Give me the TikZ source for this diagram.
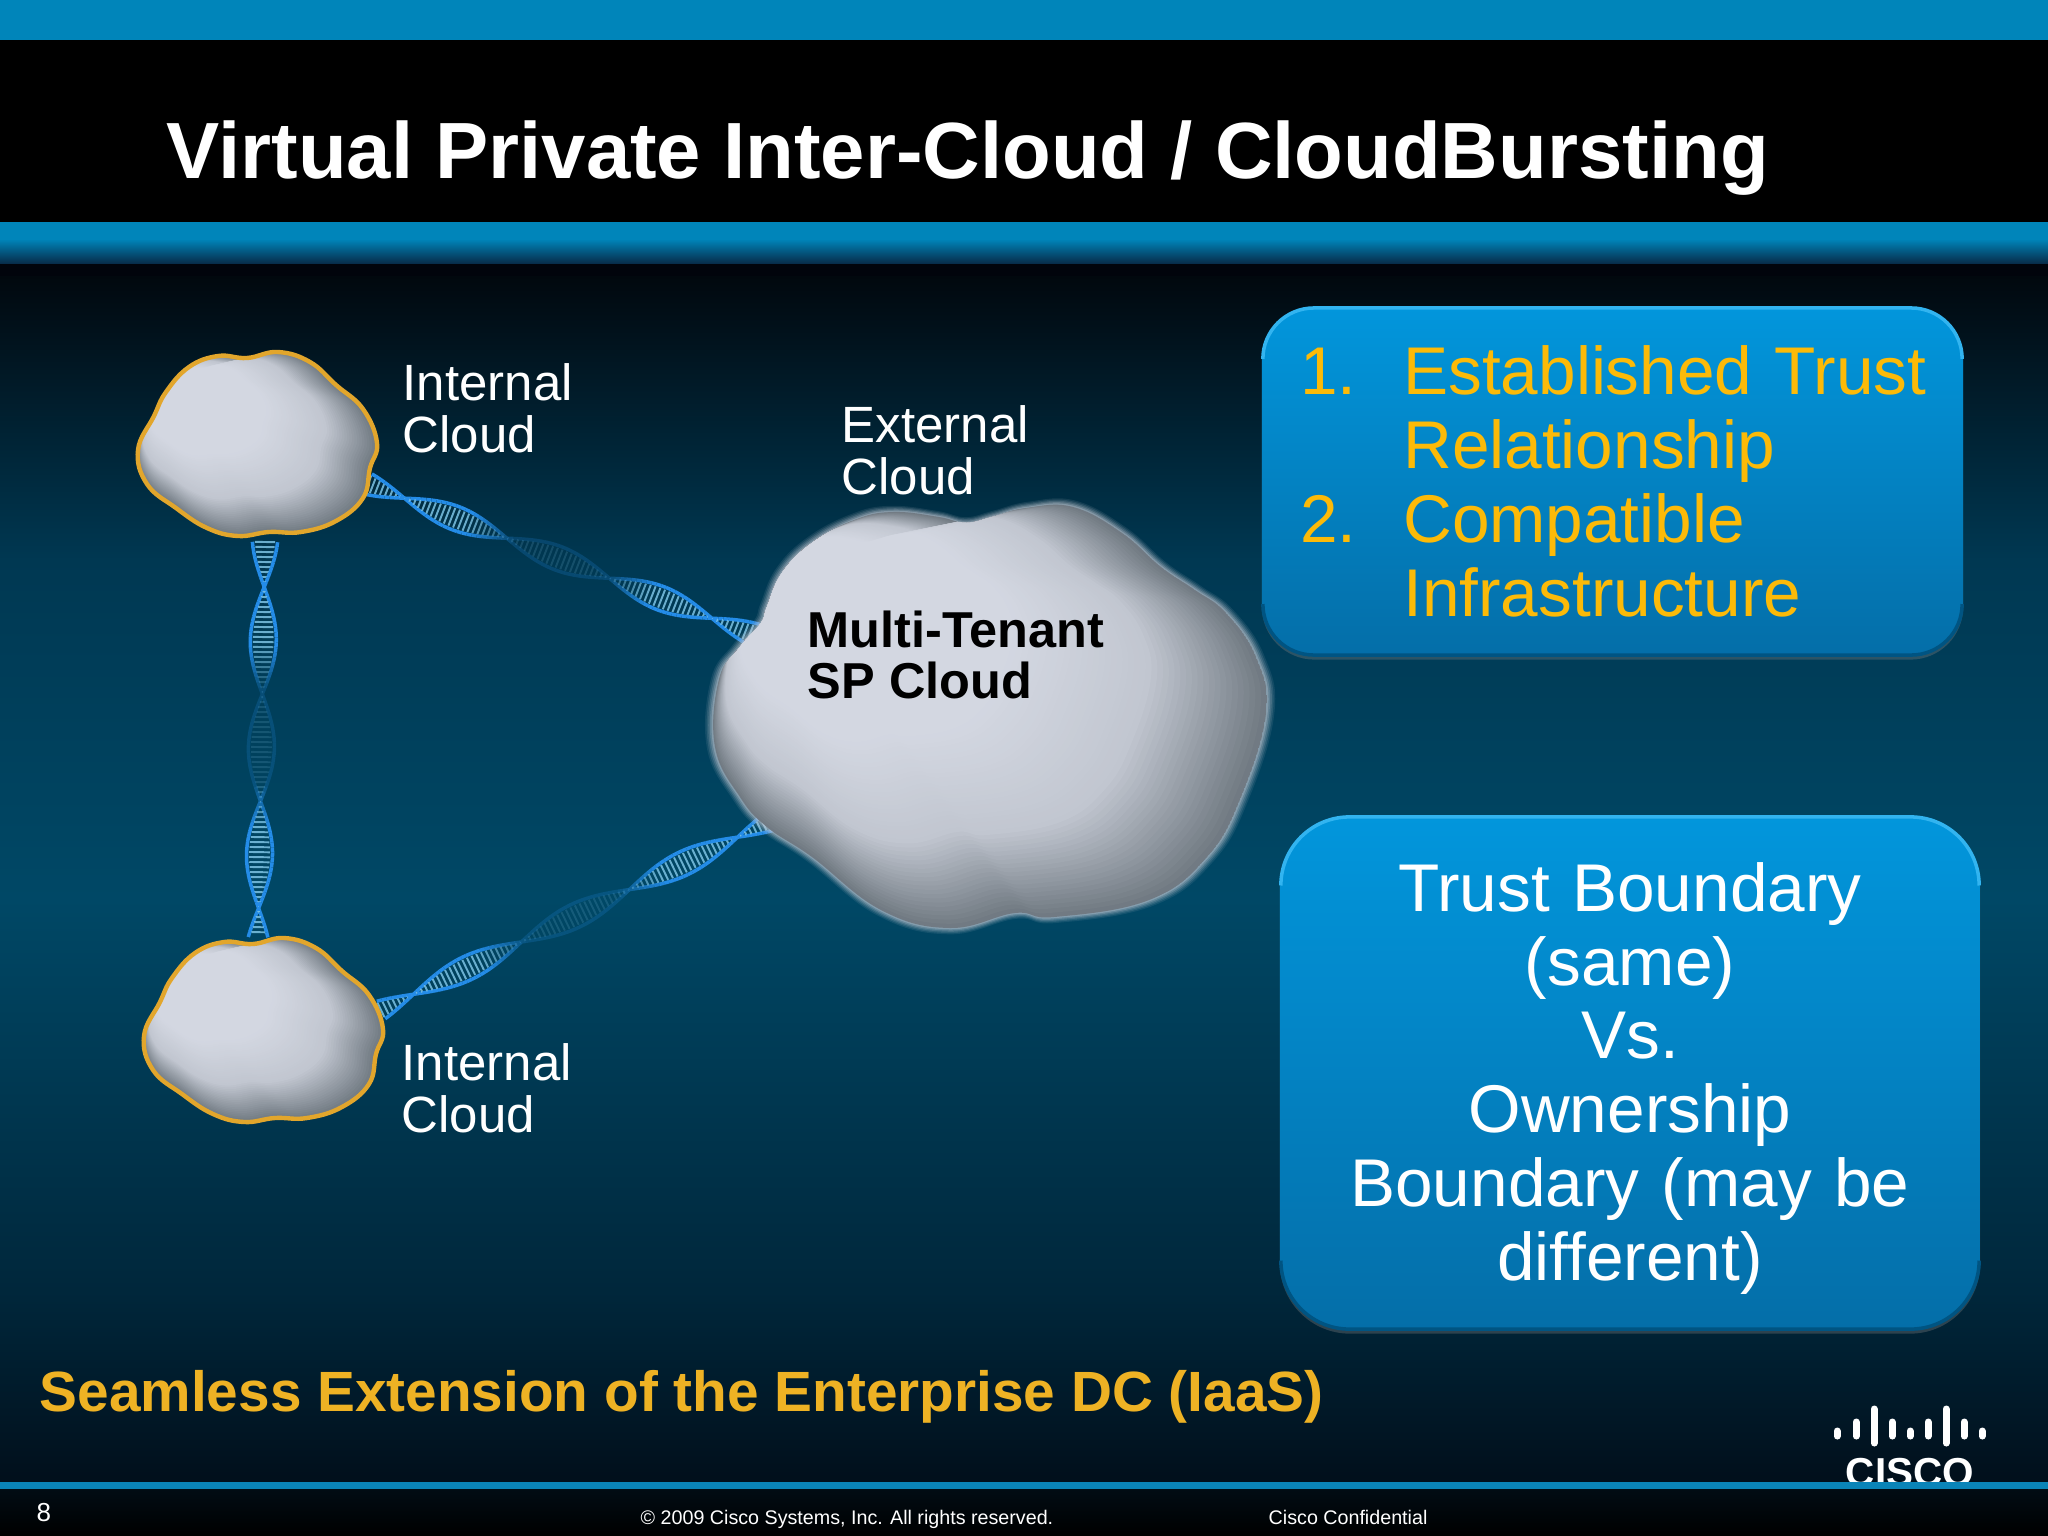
\documentclass[tikz,border=0pt]{standalone}
\usepackage{fontspec}
\setmainfont{Liberation Sans}
\usetikzlibrary{calc,shadows}
\definecolor{bandblue}{RGB}{0,133,186}
\definecolor{gold}{RGB}{238,178,36}
\definecolor{listgold}{RGB}{252,186,8}
\definecolor{golddark}{RGB}{226,166,44}
\definecolor{boxtop}{RGB}{2,150,220}
\definecolor{boxbot}{RGB}{4,110,168}
\definecolor{boxedge}{RGB}{0,84,130}
\definecolor{boxhi}{RGB}{50,180,240}
\definecolor{clouddark}{RGB}{104,114,122}
\definecolor{cloudmid}{RGB}{193,198,208}
\definecolor{cloudlight}{RGB}{212,216,226}
\definecolor{strandc}{RGB}{36,140,232}
\definecolor{rungc}{RGB}{125,195,228}
\definecolor{bgA}{RGB}{8,38,66}
\definecolor{bgB}{RGB}{1,4,12}
\definecolor{bgC}{RGB}{1,8,14}
\definecolor{bgD}{RGB}{0,56,82}
\definecolor{bgE}{RGB}{0,72,102}
\definecolor{bgF}{RGB}{0,38,58}
\definecolor{bgG}{RGB}{1,15,27}
\definecolor{bgH}{RGB}{1,12,20}
\definecolor{lineblue}{RGB}{10,132,184}
\tikzset{
 lbl/.style={text=white,inner sep=0pt,align=left,font=\fontsize{14.5}{14.7}\selectfont},
 infobox/.style={draw=none,top color=boxtop,bottom color=boxbot,inner sep=0pt,drop shadow={shadow xshift=0pt,shadow yshift=-1pt,opacity=0.35}},
 foot/.style={text=white,inner sep=0pt,anchor=base west,font=\fontsize{5.6}{7}\selectfont},
 logobar/.style={line width=2pt,line cap=round,draw=white},
 strand/.style={draw=strandc,line width=1pt},
 rung/.style={draw=rungc,line width=0.55pt},
}
\newcommand\intpath{plot[smooth cycle,tension=0.7] coordinates{(-118,5)(-102,-29)(-90,-53)(-67,-78)(-38,-89)(-9,-87)(22,-93)(54,-83)(80,-60)(107,-36)(121,-2)(114,23)(107,53)(80,76)(45,87)(13,87)(-18,91)(-49,83)(-80,63)(-109,39)}}
\newcommand\extpath{plot[smooth cycle,tension=0.7] coordinates{(-225,-95)(-246,-71)(-267,-38)(-271,29)(-246,79)(-219,109)(-174,139)(-105,192)(-36,210)(29,195)(68,199)(163,182)(221,139)(255,79)(280,-5)(270,-61)(240,-105)(209,-128)(175,-151)(136,-185)(87,-211)(41,-210)(6,-201)(-20,-195)(-47,-201)(-93,-206)(-131,-198)(-174,-175)(-204,-145)(-219,-111)}}
% #1 centre, #2 path macro, #3 half width, #4 half height
\newcommand\cloudlayers[4]{%
 \begin{scope}
 \clip[shift={(#1)}] #2;
 \foreach \i in {0,...,44}{%
  \pgfmathsetmacro\sc{1-\i*0.0115}%
  \pgfmathsetmacro\dxx{-(1-\sc)*#3*0.8}%
  \pgfmathsetmacro\dyy{-(1-\sc)*#4*0.75}%
  \ifnum\i<20
   \pgfmathsetmacro\mx{10+\i*4.5}%
   \fill[cloudmid!\mx!clouddark,shift={(#1)},shift={(\dxx,\dyy)},scale=\sc] #2;%
  \else
   \pgfmathsetmacro\mx{(\i-20)*4}%
   \fill[cloudlight!\mx!cloudmid,shift={(#1)},shift={(\dxx,\dyy)},scale=\sc] #2;%
  \fi
 }%
 \end{scope}%
}
% #1 start, #2 end, #3 first crossing, #4 half-period, #5 amplitude
\newcommand\dna[5]{%
 \path (#1);\pgfgetlastxy{\ax}{\ay}%
 \path (#2);\pgfgetlastxy{\bx}{\by}%
 \pgfmathsetmacro\dlen{veclen(\bx-\ax,\by-\ay)/0.28453}%
 \pgfmathsetmacro\dang{atan2(\by-\ay,\bx-\ax)}%
 \pgfmathtruncatemacro\dn{\dlen/5}%
 \begin{scope}[shift={(\ax,\ay)},rotate=\dang,x=0.28453pt,y=0.28453pt]
  \foreach \k in {1,...,\dn}{%
   \pgfmathsetmacro\sa{(\k-1)*5}%
   \pgfmathsetmacro\sb{\k*5}%
   \pgfmathsetmacro\ya{#5*sin(180/#4*(\sa-#3))}%
   \pgfmathsetmacro\yb{#5*sin(180/#4*(\sb-#3))}%
   \pgfmathsetmacro\yc{0.8*\ya}%
   \pgfmathsetmacro\op{max(0.2,min(1,(abs(\sa/\dlen-0.48)-0.09)/0.14))}%
   \pgfmathsetmacro\opr{\op*0.85}%
   \draw[rung,opacity=\opr] (\sa,\yc)--(\sa,-\yc);
   \draw[strand,opacity=\op] (\sa,\ya)--(\sb,\yb) (\sa,-\ya)--(\sb,-\yb);
  }%
 \end{scope}%
}
\begin{document}
\begin{tikzpicture}[x=0.01cm,y=-0.01cm]
\useasboundingbox (0,0) rectangle (2048,1536);
% background
\fill[bandblue] (0,0) rectangle (2048,41);
\fill[black] (0,40) rectangle (2048,223);
\fill[bandblue] (0,222) rectangle (2048,240);
\shade[top color=bandblue,bottom color=bgA] (0,239) rectangle (2048,265);
\fill[bgB] (0,264) rectangle (2048,277);
\shade[top color=bgC,bottom color=bgD] (0,276) rectangle (2048,560);
\shade[top color=bgD,bottom color=bgE] (0,559) rectangle (2048,900);
\shade[top color=bgE,bottom color=bgF] (0,899) rectangle (2048,1300);
\shade[top color=bgF,bottom color=bgG] (0,1299) rectangle (2048,1483);
\shade[top color=bgH,bottom color=black] (0,1488) rectangle (2048,1536);

% connector end points at the cloud rims
\coordinate (intAr) at (368,484);
\coordinate (intAb) at (265,542);
\coordinate (intBt) at (258,942);
\coordinate (intBr) at (381,1010);
\coordinate (extT) at (765,639);
\coordinate (extB) at (775,819);

% DNA connectors
\dna{intAb}{intBt}{45}{107}{13}
\dna{intAr}{extT}{39}{110}{12}
\dna{intBr}{extB}{36}{120}{12}

% clouds
\cloudlayers{256,445}{\intpath}{121}{90}
\draw[golddark,line width=1.25pt,shift={(256,445)}] \intpath;
\cloudlayers{262,1031}{\intpath}{121}{90}
\draw[golddark,line width=1.25pt,shift={(262,1031)}] \intpath;
\foreach \s/\o in {1.03/0.1,1.024/0.14,1.018/0.18,1.012/0.25,1.006/0.35}{\fill[cloudmid,opacity=\o,shift={(986,718)},scale=\s] \extpath;}
\cloudlayers{986,718}{\extpath}{275}{210}

% labels
\node[lbl,anchor=north west] (lblA) at (402,363) {Internal\\Cloud};
\node[lbl,anchor=north west] (lblB) at (401,1043) {Internal\\Cloud};
\node[lbl,anchor=north west] (lblE) at (841,405) {External\\Cloud};
\node[inner sep=0pt,anchor=north west,align=left,text=black,font=\fontsize{14.35}{14.6}\selectfont\bfseries] (sp) at (807,610) {Multi-Tenant\\SP Cloud};

% boxes
\node[infobox,rounded corners=15pt,minimum width=7.01cm,minimum height=3.49cm,text width=6.6cm,align=left,text=listgold,font=\fontsize{19.2}{21}\selectfont] (boxA) at (1612.5,481.5)
 {\hspace*{0.18cm}\makebox[1.03cm][l]{1.}Established Trust\\\hspace*{1.21cm}Relationship\\\hspace*{0.18cm}\makebox[1.03cm][l]{2.}Compatible\\\hspace*{1.21cm}Infrastructure};
\node[infobox,rounded corners=20pt,minimum width=7cm,minimum height=5.14cm,text width=6.6cm,align=center,text=white,font=\fontsize{19.2}{21}\selectfont] (boxB) at (1630,1073)
 {\rule{0pt}{17pt}Trust Boundary\\(same)\\Vs.\\Ownership\\Boundary (may be\\different)};
\draw[boxhi,line width=1pt,rounded corners=14.5pt] ([xshift=0.5pt,yshift=-15pt]boxA.north west) -- ([xshift=0.5pt,yshift=-0.5pt]boxA.north west) -- ([xshift=-0.5pt,yshift=-0.5pt]boxA.north east) -- ([xshift=-0.5pt,yshift=-15pt]boxA.north east);
\draw[boxedge,line width=1pt,rounded corners=14.5pt] ([xshift=0.5pt,yshift=15pt]boxA.south west) -- ([xshift=0.5pt,yshift=0.5pt]boxA.south west) -- ([xshift=-0.5pt,yshift=0.5pt]boxA.south east) -- ([xshift=-0.5pt,yshift=15pt]boxA.south east);
\draw[boxhi,line width=1pt,rounded corners=19.5pt] ([xshift=0.5pt,yshift=-20pt]boxB.north west) -- ([xshift=0.5pt,yshift=-0.5pt]boxB.north west) -- ([xshift=-0.5pt,yshift=-0.5pt]boxB.north east) -- ([xshift=-0.5pt,yshift=-20pt]boxB.north east);
\draw[boxedge,line width=1pt,rounded corners=19.5pt] ([xshift=0.5pt,yshift=20pt]boxB.south west) -- ([xshift=0.5pt,yshift=0.5pt]boxB.south west) -- ([xshift=-0.5pt,yshift=0.5pt]boxB.south east) -- ([xshift=-0.5pt,yshift=20pt]boxB.south east);

% title and tag line
\node[inner sep=0pt,anchor=base west,text=white,font=\fontsize{22.67}{26}\selectfont\bfseries] (title) at (166,178) {Virtual Private Inter-Cloud / CloudBursting};
\node[inner sep=0pt,anchor=base west,text=gold,font=\fontsize{16.14}{18}\selectfont\bfseries] (tag) at (39,1411) {Seamless Extension of the Enterprise DC (IaaS)};

% logo
\foreach \bx/\bt/\bb in {1837/1431/1436,1856/1422/1436,1874/1409/1443,1892/1422/1436,1910/1431/1436,1928/1422/1436,1946/1409/1443,1964/1422/1436,1982/1431/1436}
 \draw[logobar] (\bx,\bt)--(\bx,\bb);
\node[inner sep=0pt,text=white,font=\fontsize{11.5}{13}\selectfont\bfseries] (cisco) at (1910,1473) {CISCO};

% footer
\fill[lineblue] (0,1482) rectangle (2048,1489);
\node[foot,font=\fontsize{7.4}{8}\selectfont] (pg) at (36,1521) {8};
\node[foot] (copy) at (640,1524) {© 2009 Cisco Systems, Inc. All rights reserved.};
\node[foot] (conf) at (1268,1524) {Cisco Confidential};
\end{tikzpicture}
\end{document}
